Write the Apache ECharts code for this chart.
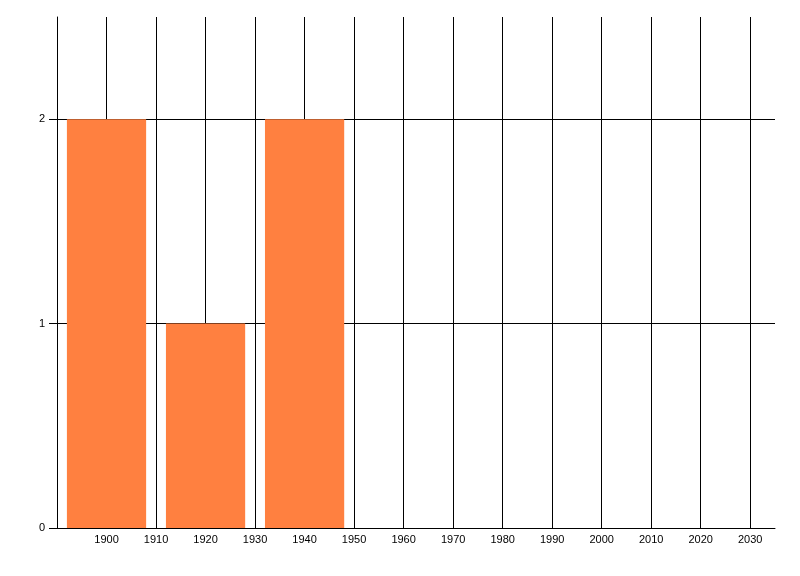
<!DOCTYPE html>
<html><head><meta charset="utf-8">
<script src="https://cdn.jsdelivr.net/npm/echarts@6/dist/echarts.min.js"></script>
<style>html,body{margin:0;padding:0;background:#fff}#c{width:800px;height:576px}</style>
</head><body><div id="c"></div>
<script>
const years = [1900, 1920, 1940];
const counts = [2, 1, 2];
const binWidth = 16;
const xTickLabels = [1900, 1910, 1920, 1930, 1940, 1950, 1960, 1970, 1980, 1990, 2000, 2010, 2020, 2030];
const yTickLabels = [0, 1, 2];

const chart = echarts.init(document.getElementById('c'), null, {renderer: 'canvas'});
const font = 'Liberation Sans, Arial, sans-serif';
chart.setOption({
  animation: false,
  backgroundColor: '#ffffff',
  grid: {left: 57, right: 25, top: 17, bottom: 48, containLabel: false},
  xAxis: {
    type: 'value', min: 1890, max: 2035, interval: 10,
    axisLine: {show: true, lineStyle: {color: '#000', width: 1}},
    axisTick: {show: false},
    axisLabel: {customValues: xTickLabels, formatter: v => String(v), color: '#000', fontSize: 11, fontFamily: font, margin: 6},
    splitLine: {show: true, showMinLine: true, showMaxLine: false, lineStyle: {color: '#000', width: 1}}
  },
  yAxis: {
    type: 'value', min: 0, max: 2.5, interval: 1,
    axisLine: {show: true, lineStyle: {color: '#000', width: 1}},
    axisTick: {show: true, customValues: yTickLabels, length: 8, lineStyle: {color: '#000'}},
    axisLabel: {customValues: yTickLabels, formatter: v => String(v), color: '#000', fontSize: 11, fontFamily: font, margin: 12},
    splitLine: {show: true, showMinLine: false, showMaxLine: true, lineStyle: {color: '#000', width: 1}}
  },
  series: [{
    type: 'custom',
    data: years.map((y, i) => [y, counts[i]]),
    encode: {x: 0, y: 1},
    renderItem: function (params, api) {
      const x = api.value(0), v = api.value(1);
      const p0 = api.coord([x - binWidth / 2, v]);
      const p1 = api.coord([x + binWidth / 2, 0]);
      return {
        type: 'rect',
        shape: {x: p0[0], y: p0[1], width: p1[0] - p0[0], height: p1[1] - p0[1]},
        style: {fill: '#ff8040'}
      };
    }
  }]
});
</script></body></html>
